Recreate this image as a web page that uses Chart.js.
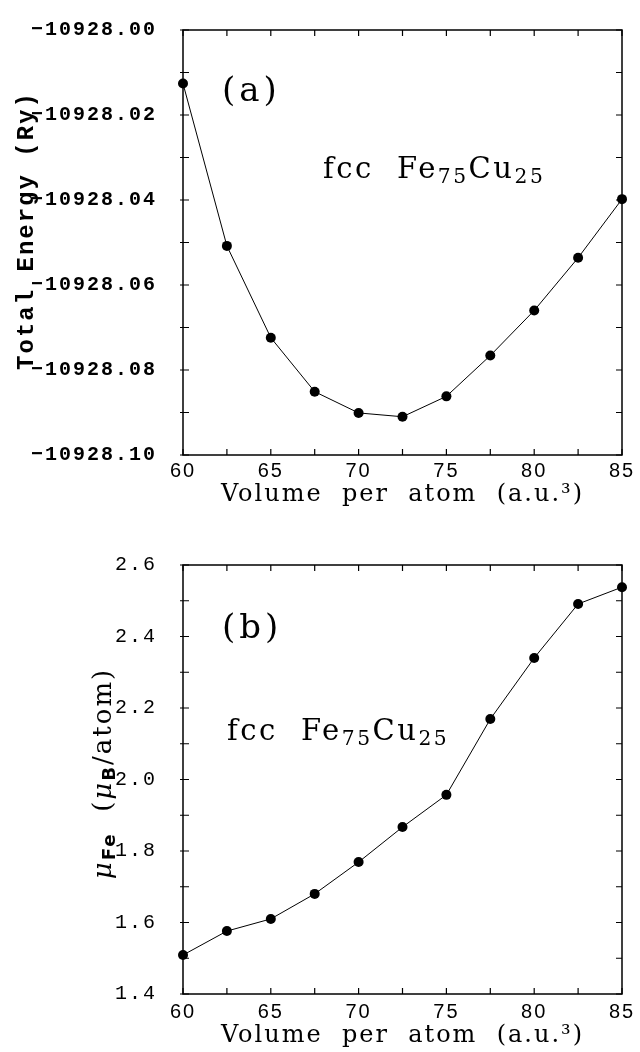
<!DOCTYPE html>
<html>
<head>
<meta charset="utf-8">
<script src="https://cdn.jsdelivr.net/npm/chart.js@4.4.0/dist/chart.umd.min.js"></script>
<style>
  html, body { margin: 0; padding: 0; background: #fff; }
  .panel { position: absolute; left: 0; width: 640px; height: 526px; }
  #top { top: 0; }
  #bot { top: 526px; }
</style>
</head>
<body>
<div class="panel" id="top"><canvas id="energyChart"></canvas></div>
<div class="panel" id="bot"><canvas id="momentChart"></canvas></div>
<script>
// volume per atom (a.u.^3)
let volume = [60, 62.5, 65, 67.5, 70, 72.5, 75, 77.5, 80, 82.5, 85]
// (a) total energy (Ry)
let energy = [-10928.0126, -10928.0508, -10928.0724, -10928.0851, -10928.0901, -10928.0910,
              -10928.0862, -10928.0766, -10928.0660, -10928.0536, -10928.0398]
// (b) Fe moment (mu_B/atom)
let moment = [1.509, 1.576, 1.610, 1.680, 1.769, 1.867, 1.957, 2.169, 2.340, 2.491, 2.538]

let xTickLabels = [60, 65, 70, 75, 80, 85]
let energyTickLabels = [-10928.10, -10928.08, -10928.06, -10928.04, -10928.02, -10928.00]
let momentTickLabels = [1.4, 1.6, 1.8, 2.0, 2.2, 2.4, 2.6]

const black = '#000'

function fontFor(p, size) {
  const s = p.sub ? size * 0.7 : size
  return (p.italic ? 'italic ' : '') + (p.bold ? 'bold ' : '') + s + 'px ' + (p.family || '"DejaVu Serif"')
}

function drawRich(ctx, parts, x, y, size, spacing) {
  ctx.letterSpacing = spacing + 'px'
  let cx = x
  parts.forEach(p => {
    ctx.font = fontFor(p, size)
    ctx.fillText(p.text, cx, p.sub ? y + size * 0.16 : y)
    cx += ctx.measureText(p.text).width
  })
}

function richWidth(ctx, parts, size, spacing) {
  ctx.letterSpacing = spacing + 'px'
  let w = 0
  parts.forEach(p => {
    ctx.font = fontFor(p, size)
    w += ctx.measureText(p.text).width
  })
  return w
}

// box with inward ticks, panel notes and rotated y title
const frame = {
  id: 'frame',
  beforeDraw(chart) {
    chart.ctx.letterSpacing = '2px'
  },
  beforeDatasetsDraw(chart) {
    const ctx = chart.ctx
    const a = chart.chartArea
    const x = chart.scales.x
    const y = chart.scales.y
    ctx.save()
    ctx.strokeStyle = black
    ctx.lineWidth = 1.5
    ctx.strokeRect(a.left, a.top, a.right - a.left, a.bottom - a.top)
    ctx.lineWidth = 1.2
    ctx.beginPath()
    x.ticks.forEach(t => {
      const px = x.getPixelForValue(t.value)
      ctx.moveTo(px, a.bottom); ctx.lineTo(px, a.bottom - 6)
      ctx.moveTo(px, a.top); ctx.lineTo(px, a.top + 6)
    })
    y.ticks.forEach(t => {
      const py = y.getPixelForValue(t.value)
      ctx.moveTo(a.left - 3, py); ctx.lineTo(a.left + 6, py)
      ctx.moveTo(a.right, py); ctx.lineTo(a.right - 6, py)
    })
    ctx.stroke()
    ctx.restore()
  },
  afterDraw(chart, args, opts) {
    const ctx = chart.ctx
    const x = chart.scales.x
    const y = chart.scales.y
    const notes = opts.notes || []
    ctx.save()
    ctx.fillStyle = black
    ctx.textBaseline = 'alphabetic'
    ctx.textAlign = 'left'
    notes.forEach(n => {
      drawRich(ctx, n.parts, x.getPixelForValue(n.x), y.getPixelForValue(n.y), n.size, n.spacing)
    })
    if (opts.yTitle) {
      const a = chart.chartArea
      const t = opts.yTitle
      const w = richWidth(ctx, t.parts, t.size, t.spacing)
      ctx.translate(t.baseline, (a.top + a.bottom) / 2 + t.shift)
      ctx.rotate(-Math.PI / 2)
      drawRich(ctx, t.parts, -w / 2, 0, t.size, t.spacing)
    }
    ctx.restore()
  }
}

function near(list, v, eps) {
  return list.some(l => Math.abs(l - v) < eps)
}

function xScale(labelPad, titlePad, height) {
  return {
    type: 'linear',
    min: 60,
    max: 85,
    grid: { display: false },
    border: { display: false },
    ticks: {
      stepSize: 2.5,
      autoSkip: false,
      maxRotation: 0,
      padding: labelPad,
      color: black,
      font: { family: '"Liberation Sans"', size: 20 },
      callback: v => near(xTickLabels, v, 1e-6) ? String(v) : ''
    },
    title: {
      display: true,
      text: 'Volume  per  atom  (a.u.³)',
      color: black,
      font: { family: '"DejaVu Serif"', size: 24 },
      padding: { top: 0, bottom: titlePad }
    },
    afterFit: s => { s.height = height }
  }
}

function yScale(min, max, step, labels, fmt, weight) {
  return {
    type: 'linear',
    min: min,
    max: max,
    grid: { display: false },
    border: { display: false },
    ticks: {
      stepSize: step,
      autoSkip: false,
      padding: 18,
      color: black,
      font: { family: '"Liberation Mono"', size: 20, weight: weight },
      callback: v => near(labels, v, 1e-6) ? fmt(v) : ''
    },
    title: { display: false },
    afterFit: s => { s.width = 183 }
  }
}

function lineSet(values) {
  return {
    data: volume.map((v, i) => ({ x: v, y: values[i] })),
    borderColor: black,
    borderWidth: 1,
    backgroundColor: black,
    pointRadius: 5,
    pointBorderWidth: 0,
    pointBackgroundColor: black,
    tension: 0,
    clip: false
  }
}

const alloy = [{ text: 'fcc  Fe' }, { text: '75', sub: true }, { text: 'Cu' }, { text: '25', sub: true }]

new Chart(document.getElementById('energyChart'), {
  type: 'line',
  data: { datasets: [lineSet(energy)] },
  options: {
    responsive: true,
    maintainAspectRatio: false,
    animation: false,
    layout: { padding: { left: 0, right: 18, top: 20, bottom: 0 } },
    plugins: {
      legend: { display: false },
      tooltip: { enabled: false },
      frame: {
        notes: [
          { x: 62.22, y: -10928.0166, size: 34, spacing: 4, parts: [{ text: '(a)' }] },
          { x: 67.97, y: -10928.0349, size: 29, spacing: 2.5, parts: alloy }
        ],
        yTitle: {
          baseline: 33, size: 24, spacing: 2, shift: -12,
          parts: [{ text: 'Total Energy (Ry)', bold: true, family: '"Liberation Mono"' }]
        }
      }
    },
    scales: {
      x: xScale(-4, 17, 71),
      y: yScale(-10928.10, -10928.00, 0.01, energyTickLabels, v => '−' + Math.abs(v).toFixed(2), 'bold')
    }
  },
  plugins: [frame]
})

new Chart(document.getElementById('momentChart'), {
  type: 'line',
  data: { datasets: [lineSet(moment)] },
  options: {
    responsive: true,
    maintainAspectRatio: false,
    animation: false,
    layout: { padding: { left: 0, right: 18, top: 39, bottom: 0 } },
    plugins: {
      legend: { display: false },
      tooltip: { enabled: false },
      frame: {
        notes: [
          { x: 62.22, y: 2.396, size: 34, spacing: 4, parts: [{ text: '(b)' }] },
          { x: 62.5, y: 2.110, size: 29, spacing: 2.5, parts: alloy }
        ],
        yTitle: {
          baseline: 111, size: 26, spacing: 2, shift: -6,
          parts: [
            { text: 'μ', italic: true },
            { text: 'Fe', sub: true, bold: true, family: '"DejaVu Sans"' },
            { text: '  (' },
            { text: 'μ', italic: true },
            { text: 'B', sub: true, bold: true, family: '"DejaVu Sans"' },
            { text: '/atom)' }
          ]
        }
      }
    },
    scales: {
      x: xScale(-2, 2, 58),
      y: yScale(1.4, 2.6, 0.1, momentTickLabels, v => v.toFixed(1), 'normal')
    }
  },
  plugins: [frame]
})
</script>
</body>
</html>
